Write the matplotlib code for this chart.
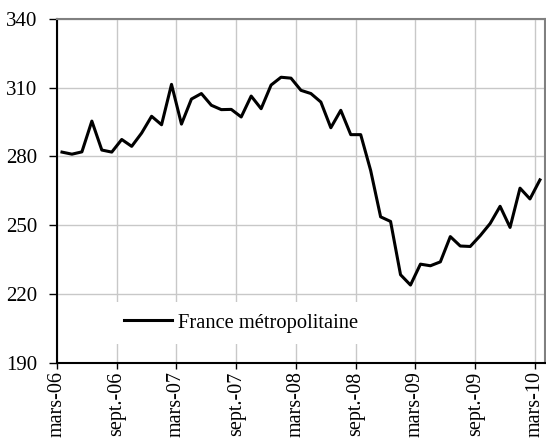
import numpy as np
import matplotlib
matplotlib.use("Agg")
import matplotlib.pyplot as plt

# monthly values, mars-06 .. mars-10
values = [281.9, 281.0, 282.0, 295.4, 282.8, 281.9, 287.4, 284.4, 290.2, 297.5,
          293.8, 311.4, 294.1, 305.0, 307.4, 302.3, 300.4, 300.5, 297.2, 306.3,
          300.8, 311.1, 314.5, 314.1, 308.8, 307.4, 303.7, 292.5, 300.1, 289.5,
          289.5, 273.9, 253.7, 251.7, 228.5, 224.0, 233.1, 232.4, 234.1, 245.1,
          241.0, 240.8, 245.5, 250.8, 258.3, 249.1, 266.2, 261.5, 269.8]
tick_labels = ["mars-06", "sept.-06", "mars-07", "sept.-07", "mars-08",
               "sept.-08", "mars-09", "sept.-09", "mars-10"]
series_name = "France métropolitaine"

plt.rcParams['font.family'] = ['Liberation Serif', 'DejaVu Serif']

fig = plt.figure(figsize=(5.46, 4.45), dpi=100)
ax = fig.add_axes([0.1044, 0.184, 0.8936, 0.774])

x = np.arange(len(values)) + 0.5
ax.plot(x, values, color="black", lw=2.2, label=series_name, zorder=3)

ax.set_xlim(0, len(values))
ax.set_ylim(190, 340)
ax.set_yticks(np.arange(190, 341, 30))
ax.set_xticks(np.arange(0, len(values), 6))
ax.set_xticklabels(tick_labels, rotation=90)

ax.grid(True, color="#c8c8c8", lw=1.0)
ax.set_axisbelow(True)

for side in ("left", "bottom"):
    ax.spines[side].set_color("black")
    ax.spines[side].set_linewidth(1.5)
for side in ("top", "right"):
    ax.spines[side].set_color("#808080")
    ax.spines[side].set_linewidth(1.5)

ax.tick_params(axis="both", labelsize=15, direction="out", width=1.0,
               color="black")
ax.tick_params(axis="y", length=6, pad=8)
ax.tick_params(axis="x", length=4, pad=2, labelsize=14.5)

leg = ax.legend(loc="center left", bbox_to_anchor=(0.115, 0.117),
                borderaxespad=0, borderpad=0.55, fontsize=14.8,
                handlelength=2.3, handletextpad=0.3, frameon=True,
                fancybox=False)
leg.get_frame().set_facecolor("white")
leg.get_frame().set_edgecolor("none")
leg.get_frame().set_alpha(1.0)

fig.savefig("out.png", dpi=100)
